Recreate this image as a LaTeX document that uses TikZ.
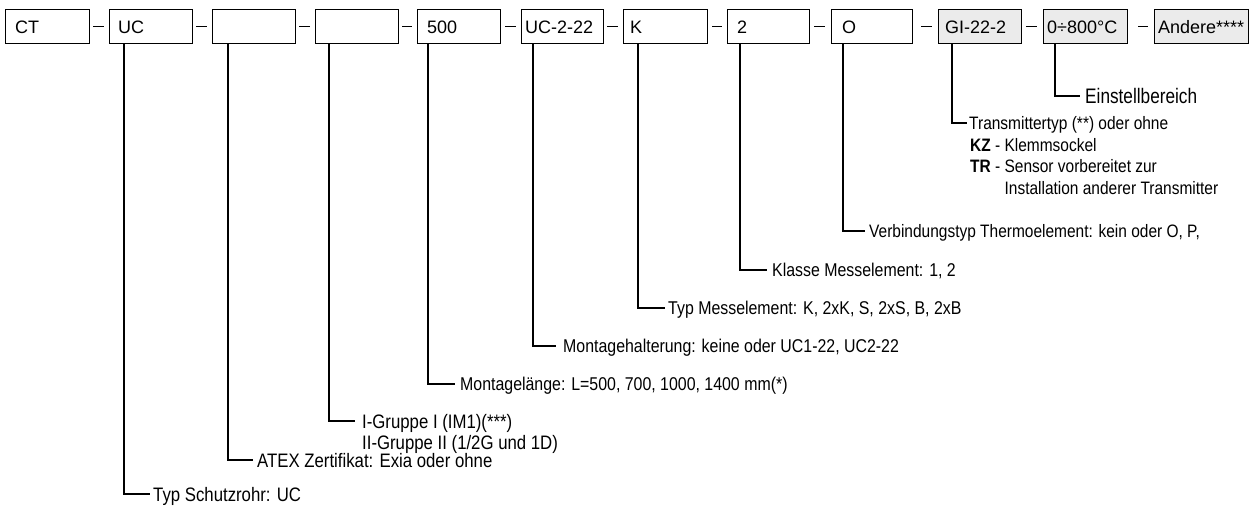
\documentclass[tikz,border=0pt]{standalone}
\usepackage{fontspec}
\setmainfont{Liberation Sans}
\newfontfamily\narrowfont{Liberation Sans}[FakeStretch=0.86]
\newfontfamily\widenarrowfont{Liberation Sans}[FakeStretch=0.82]
\usetikzlibrary{calc}
\definecolor{boxgrey}{RGB}{235,235,235}
\begin{document}
\begin{tikzpicture}[x=1pt,y=-1pt,
  box/.style={draw, line width=1.2pt, minimum height=34pt, inner sep=0pt, anchor=north west},
  greybox/.style={box, fill=boxgrey},
  boxtxt/.style={anchor=base west, inner sep=0pt, font=\fontsize{18}{20}\selectfont},
  lbl/.style={anchor=west, inner ysep=0pt, text height=13.2pt, text depth=0pt, font=\narrowfont\fontsize{18.5}{22}\selectfont},
  lbllarge/.style={lbl, text height=14pt, font=\narrowfont\fontsize{19.5}{22}\selectfont},
  lblsmall/.style={lbl, text height=12.9pt, font=\narrowfont\fontsize{18}{22}\selectfont},
  biglbl/.style={anchor=west, inner ysep=0pt, text height=15pt, text depth=0pt, font=\widenarrowfont\fontsize{21}{24}\selectfont},
  conn/.style={line width=1.5pt},
  sepline/.style={line width=1.3pt}]
\useasboundingbox (0,0) rectangle (1251,506);
% boxes
\node[box, minimum width=84pt] (b1) at (5,9) {};
\node[box, minimum width=83pt] (b2) at (109,9) {};
\node[box, minimum width=83pt] (b3) at (212,9) {};
\node[box, minimum width=83pt] (b4) at (315,9) {};
\node[box, minimum width=83pt] (b5) at (417,9) {};
\node[box, minimum width=82pt] (b6) at (521,9) {};
\node[box, minimum width=84pt] (b7) at (623,9) {};
\node[box, minimum width=82pt] (b8) at (727,9) {};
\node[box, minimum width=81pt] (b9) at (831,9) {};
\node[greybox, minimum width=83pt] (b10) at (938,9) {};
\node[greybox, minimum width=84pt] (b11) at (1043,9) {};
\node[greybox, minimum width=94pt] (b12) at (1154,9) {};
% box texts
\node[boxtxt] (t1) at ($(b1.south west)+(10,-11)$) {CT};
\node[boxtxt] (t2) at ($(b2.south west)+(9,-11)$) {UC};
\node[boxtxt] (t5) at ($(b5.south west)+(10,-11)$) {500};
\node[boxtxt] (t6) at ($(b6.south west)+(4,-11)$) {UC-2-22};
\node[boxtxt] (t7) at ($(b7.south west)+(7,-11)$) {K};
\node[boxtxt] (t8) at ($(b8.south west)+(10,-11)$) {2};
\node[boxtxt] (t9) at ($(b9.south west)+(11,-11)$) {O};
\node[boxtxt] (t10) at ($(b10.south west)+(7,-11)$) {GI-22-2};
\node[boxtxt] (t11) at ($(b11.south west)+(4,-11)$) {0÷800°C};
\node[boxtxt] (t12) at ($(b12.south west)+(4,-11)$) {Andere****};
% dashes between boxes
\draw[sepline, shorten <=3pt, shorten >=5pt] (b1.east) -- (b2.west);
\draw[sepline, shorten <=3pt, shorten >=5pt] (b2.east) -- (b3.west);
\draw[sepline, shorten <=3pt, shorten >=5pt] (b3.east) -- (b4.west);
\draw[sepline, shorten <=3pt, shorten >=5pt] (b4.east) -- (b5.west);
\draw[sepline, shorten <=4pt, shorten >=5pt] (b5.east) -- (b6.west);
\draw[sepline, shorten <=3pt, shorten >=5pt] (b6.east) -- (b7.west);
\draw[sepline, shorten <=4pt, shorten >=5pt] (b7.east) -- (b8.west);
\draw[sepline, shorten <=4pt, shorten >=6pt] (b8.east) -- (b9.west);
\draw[sepline, shorten <=8pt, shorten >=6pt] (b9.east) -- (b10.west);
\draw[sepline, shorten <=4pt, shorten >=6pt] (b10.east) -- (b11.west);
\draw[sepline, shorten <=10pt, shorten >=6pt] (b11.east) -- (b12.west);
% labels
\node[lbllarge, inner xsep=3pt] (l1) at (150,494) {Typ Schutzrohr: UC};
\node[lbllarge, inner xsep=4pt] (l2) at (253,460) {ATEX Zertifikat: Exia oder ohne};
\node[lbllarge, inner xsep=7pt] (l3) at (355,421) {I-Gruppe I (IM1)(***)};
\node[lbllarge, inner xsep=0pt] (l3b) at (362,442) {II-Gruppe II (1/2G und 1D)};
\node[lbl, inner xsep=5pt] (l4) at (455,384) {Montagelänge: L=500, 700, 1000, 1400 mm(*)};
\node[lbl, inner xsep=7pt] (l5) at (556,346) {Montagehalterung: keine oder UC1-22, UC2-22};
\node[lbl, inner xsep=3pt] (l6) at (665,308) {Typ Messelement: K, 2xK, S, 2xS, B, 2xB};
\node[lbl, inner xsep=5pt] (l7) at (767,270) {Klasse Messelement: 1, 2};
\node[lblsmall, inner xsep=4pt] (l8) at (865,231) {Verbindungstyp Thermoelement: kein oder O, P,};
\node[lblsmall, inner xsep=2pt] (l9) at (967,123) {Transmittertyp (**) oder ohne};
\node[lblsmall, inner xsep=0pt] (l9b) at (970,145) {\textbf{KZ} - Klemmsockel};
\node[lblsmall, inner xsep=0pt] (l9c) at (970,166) {\textbf{TR} - Sensor vorbereitet zur};
\node[lblsmall, inner xsep=0pt] (l9d) at (970,188) {\hphantom{\textbf{TR} - }Installation anderer Transmitter};
\node[biglbl, inner xsep=5pt] (l10) at (1080,96) {Einstellbereich};
% connectors
\draw[conn] ($(b2.south west)+(15,0)$) |- (l1.west);
\draw[conn] ($(b3.south west)+(16,0)$) |- (l2.west);
\draw[conn] ($(b4.south west)+(14,0)$) |- (l3.west);
\draw[conn] ($(b5.south west)+(11,0)$) |- (l4.west);
\draw[conn] ($(b6.south west)+(12,0)$) |- (l5.west);
\draw[conn] ($(b7.south west)+(15,0)$) |- (l6.west);
\draw[conn] ($(b8.south west)+(13,0)$) |- (l7.west);
\draw[conn] ($(b9.south west)+(12,0)$) |- (l8.west);
\draw[conn] ($(b10.south west)+(14,0)$) |- (l9.west);
\draw[conn] ($(b11.south west)+(12,0)$) |- (l10.west);
\end{tikzpicture}
\end{document}
